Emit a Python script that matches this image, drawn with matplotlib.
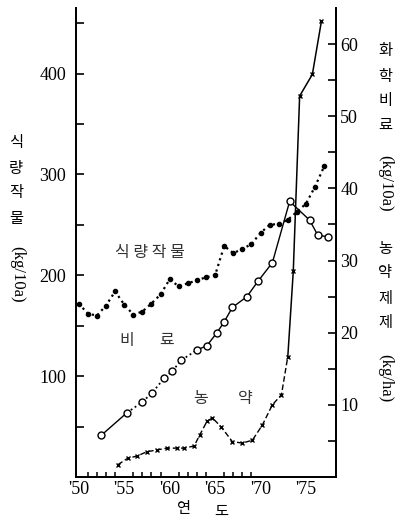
import numpy as np
import matplotlib
matplotlib.use('Agg')
import matplotlib.pyplot as plt

# food crops (kg/10a), left axis
food_years = list(range(1950, 1978))
food_vals = [172, 162, 160, 170, 184, 171, 161, 164, 172, 181, 196, 189, 192, 195,
             198, 200, 229, 222, 226, 231, 242, 250, 251, 255, 263, 271, 288, 308]

# chemical fertilizer (kg/10a), right axis
fert_years = [1952.5, 1955.3, 1957.0, 1958.1, 1959.4, 1960.3, 1961.3, 1963.0, 1964.1, 1965.2,
              1966.0, 1966.9, 1968.5, 1969.7, 1971.3, 1973.2, 1975.4, 1976.3, 1977.4]
fert_vals = [5.8, 8.9, 10.4, 11.7, 13.7, 14.7, 16.2, 17.6, 18.2, 20.0,
             21.5, 23.5, 25.0, 27.1, 29.7, 38.2, 35.6, 33.5, 33.3]

# pesticide formulations (kg/ha), right axis
pest_years = [1954.3, 1955.4, 1956.4, 1957.5, 1958.6, 1959.7, 1960.8, 1961.6, 1962.7, 1963.3,
              1964.1, 1964.7, 1965.7, 1966.9, 1968.0, 1969.1, 1970.2, 1971.3, 1972.3, 1973.0,
              1973.6, 1974.3, 1975.7, 1976.7]
pest_vals = [1.7, 2.6, 2.9, 3.5, 3.75, 4.0, 4.0, 4.0, 4.3, 5.8,
             7.7, 8.2, 6.9, 4.9, 4.7, 5.1, 7.2, 10.0, 11.4, 16.7,
             28.5, 52.8, 55.8, 63.2]

xtick_years = [1950, 1955, 1960, 1965, 1970, 1975]
xtick_labels = ["'50", "'55", "'60", "'65", "'70", "'75"]

W, H = 397, 526
kfont = ['Noto Sans CJK KR', 'DejaVu Sans']
plt.rcParams['font.family'] = 'serif'
plt.rcParams['font.serif'] = ['Liberation Serif', 'DejaVu Serif']

fig = plt.figure(figsize=(W / 100, H / 100), dpi=100)
ax = fig.add_axes([76 / W, 1 - 477 / H, 260 / W, 469 / H])
ax2 = ax.twinx()

ax.set_xlim(1949.7, 1978.3)
ax.set_ylim(0, 465)
ax2.set_ylim(0, 65)

for a in (ax, ax2):
    a.spines['top'].set_visible(False)
    for s in a.spines.values():
        s.set_linewidth(1.3)

# food crops: dotted with filled dots
ax.plot(food_years, food_vals, ls=':', lw=1.6, color='black', marker='o', ms=3,
        mfc='black', mec='black')

# fertilizer: solid ends, dotted middle, open circles
ax2.plot(fert_years[:2], fert_vals[:2], '-', lw=1, color='black')
ax2.plot(fert_years[1:8], fert_vals[1:8], ls=':', lw=1.3, color='black')
ax2.plot(fert_years[7:], fert_vals[7:], '-', lw=1, color='black')
ax2.plot(fert_years, fert_vals, ls='none', marker='o', ms=5, mfc='white',
         mec='black', mew=1)

# pesticide: dashed then solid, x markers
ax2.plot(pest_years[:20], pest_vals[:20], ls=(0, (4, 2)), lw=1, color='black')
ax2.plot(pest_years[19:], pest_vals[19:], '-', lw=1.1, color='black')
ax2.plot(pest_years, pest_vals, ls='none', marker='x', ms=3.5, mec='black', mew=1)

ax.set_yticks([100, 200, 300, 400])
ax.set_yticks([50, 150, 250, 350, 450], minor=True)
ax.tick_params(axis='y', which='both', direction='in', length=6, width=1.2, pad=7,
               labelsize=13)
ax2.set_yticks([10, 20, 30, 40, 50, 60])
ax2.set_yticks([5, 15, 25, 35, 45, 55], minor=True)
ax2.tick_params(axis='y', which='both', direction='in', length=6, width=1.2, pad=3,
                labelsize=13)

ax.set_xticks(xtick_years)
ax.set_xticklabels(xtick_labels)
ax.set_xticks(range(1950, 1971), minor=True)
ax.tick_params(axis='x', which='major', length=0, pad=3, labelsize=13)
ax.tick_params(axis='x', which='minor', direction='in', length=3.5, width=1.1)


def ftext(x, y, s, **kw):
    fig.text(x / W, 1 - y / H, s, ha='center', va='center', **kw)


# left axis label
for ch, y in zip('식량작물', [142, 168, 193, 218]):
    ftext(16, y, ch, family=kfont, fontsize=11)
ftext(17, 274, '(kg/10a)', fontsize=12, rotation=-90)

# right axis label
for ch, y in zip('화학비료', [50, 76, 100, 125]):
    ftext(385, y, ch, family=kfont, fontsize=11)
ftext(385, 183, '(kg/10a)', fontsize=12, rotation=-90)
for ch, y in zip('농약제제', [248, 273, 299, 323]):
    ftext(385, y, ch, family=kfont, fontsize=11)
ftext(385, 378, '(kg/ha)', fontsize=12, rotation=-90)

# in-plot labels
ftext(150, 252, '식 량 작 물', family=kfont, fontsize=11.5, color='#333333')
ftext(127, 340, '비', family=kfont, fontsize=11.5, color='#333333')
ftext(167, 340, '료', family=kfont, fontsize=11.5, color='#333333')
ftext(201, 399, '농', family=kfont, fontsize=11.5, color='#333333')
ftext(245, 399, '약', family=kfont, fontsize=11.5, color='#333333')

# x axis label
ftext(184, 509, '연', family=kfont, fontsize=11)
ftext(221, 511, '도', family=kfont, fontsize=11)

fig.savefig('out.png', dpi=100)
